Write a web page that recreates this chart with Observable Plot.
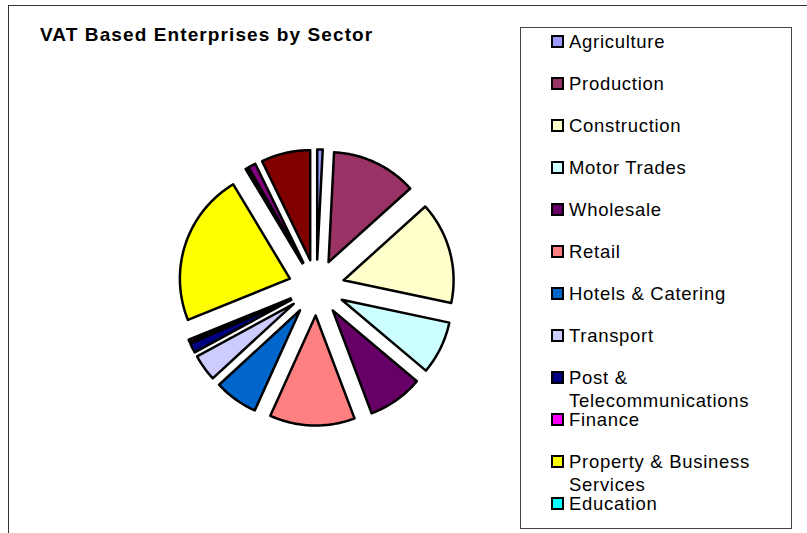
<!DOCTYPE html>
<html>
<head>
<meta charset="utf-8">
<script src="https://cdn.jsdelivr.net/npm/d3@7"></script>
<script src="https://cdn.jsdelivr.net/npm/@observablehq/plot@0.6"></script>
<style>
  html, body { margin: 0; padding: 0; background: #fff; overflow: hidden; }
  body { width: 807px; height: 533px; position: relative; font-family: Arial, "Liberation Sans", sans-serif; }
  #frame { position: absolute; left: 8px; top: 5px; width: 820px; height: 560px; border: 1.5px solid #333; box-sizing: border-box; }
  #title { position: absolute; left: 40px; top: 24px; font-size: 19px; letter-spacing: 1.1px; font-weight: bold; color: #000; white-space: nowrap; }
  #pie { position: absolute; left: 166px; top: 137px; }
  #legend { position: absolute; left: 520px; top: 27px; width: 272px; height: 502px; border: 1.5px solid #444; box-sizing: border-box; background: #fff; }
  .item { position: absolute; left: 30px; width: 230px; font-size: 18.5px; letter-spacing: 0.7px; line-height: 23px; color: #000; }
  .sw { position: absolute; left: 0; top: 5px; width: 13px; height: 13px; border: 2px solid #000; box-sizing: border-box; }
  .lab { position: absolute; left: 18px; top: 0; width: 200px; }
</style>
</head>
<body>
<div id="frame"></div>
<div id="title">VAT Based Enterprises by Sector</div>
<div id="pie"></div>
<div id="legend"></div>
<script>
const categories = ["Agriculture","Production","Construction","Motor Trades","Wholesale","Retail","Hotels & Catering","Transport","Post & Telecommunications","Finance","Property & Business Services","Education","Health","Public Admin & Other Services"];
const shares = [0.8, 12.5, 15.0, 7.8, 8.1, 12.5, 6.4, 3.9, 1.4, 0.4, 22.5, 0.3, 1.1, 7.2];
const colors = ["#9999FF","#993366","#FFFFCC","#CCFFFF","#660066","#FF8080","#0066CC","#CCCCFF","#000080","#FF00FF","#FFFF00","#00FFFF","#800080","#800000"];
const legendShown = 12;

const explode = 0.255;
const extent = 150 / 110;
const arcs = d3.pie().sort(null).value(d => d)(shares);
const pts = [];
arcs.forEach((a, i) => {
  const mid = (a.startAngle + a.endAngle) / 2;
  const cx = explode * Math.sin(mid), cy = explode * Math.cos(mid);
  pts.push({cat: categories[i], x: cx, y: cy});
  const n = Math.max(2, Math.ceil((a.endAngle - a.startAngle) / (Math.PI / 180)));
  for (let k = 0; k <= n; k++) {
    const t = a.startAngle + (a.endAngle - a.startAngle) * k / n;
    pts.push({cat: categories[i], x: cx + Math.sin(t), y: cy + Math.cos(t)});
  }
});

const chart = Plot.plot({
  width: 300, height: 300, margin: 0,
  x: {domain: [-extent, extent], axis: null},
  y: {domain: [-extent, extent], axis: null},
  color: {domain: categories, range: colors},
  marks: [
    Plot.line(pts, {x: "x", y: "y", z: "cat", fill: "cat", stroke: "black", strokeWidth: 2.5, strokeLinejoin: "round", curve: "linear-closed"})
  ]
});
document.getElementById("pie").appendChild(chart);

const legend = document.getElementById("legend");
categories.slice(0, legendShown).forEach((c, i) => {
  const it = document.createElement("div");
  it.className = "item";
  it.style.top = (2 + i * 42) + "px";
  const sw = document.createElement("div");
  sw.className = "sw";
  sw.style.background = colors[i];
  const lab = document.createElement("div");
  lab.className = "lab";
  lab.textContent = c;
  it.appendChild(sw); it.appendChild(lab);
  legend.appendChild(it);
});
</script>
</body>
</html>
